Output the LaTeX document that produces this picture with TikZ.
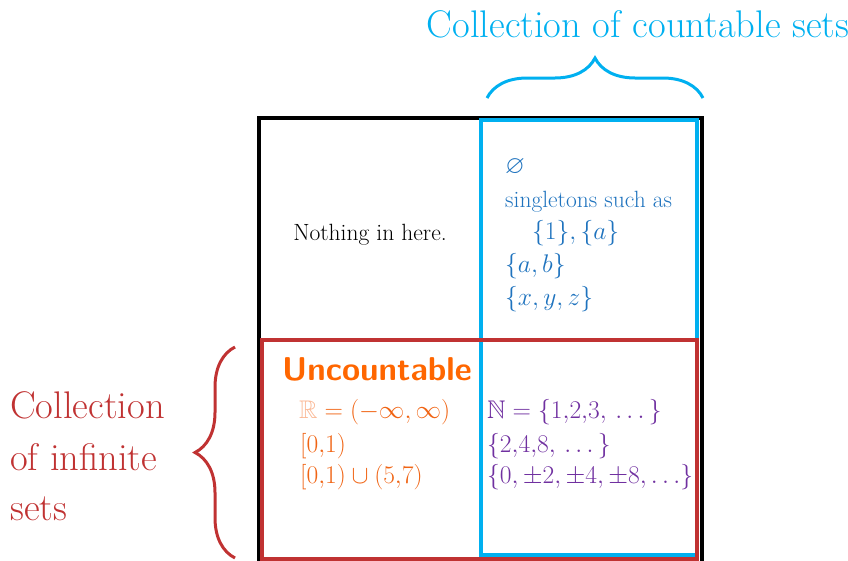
\RequirePackage{fix-cm}
\documentclass[tikz,border=0pt]{standalone}
\usepackage{amssymb,amsmath}
\usepackage{fontspec}
\usetikzlibrary{positioning}
\usetikzlibrary{decorations.pathreplacing}
\definecolor{cblue}{RGB}{0,176,240}
\definecolor{tblue}{RGB}{31,115,190}
\definecolor{ired}{RGB}{192,50,50}
\definecolor{uorange}{RGB}{255,102,0}
\definecolor{morange}{RGB}{240,100,20}
\definecolor{lorange}{RGB}{250,185,150}
\definecolor{npurple}{RGB}{112,48,160}
\tikzset{bigtext/.style = {font=\fontsize{38.5}{44}\selectfont, inner sep=0pt}}
\tikzset{settext/.style = {font=\fontsize{23.5}{27}\selectfont, inner sep=0pt, anchor=base west}}
\tikzset{setmath/.style = {font=\fontsize{25.5}{30}\selectfont, inner sep=0pt, anchor=base west}}
\tikzset{setbrace/.style = {decorate, decoration={brace, amplitude=40pt}, line width=3pt}}
\tikzset{boxline/.style = {line width=4pt}}

\begin{document}
\begin{tikzpicture}[x=1pt, y=-1pt]
          \useasboundingbox (0,0) rectangle (848,560);
          \clip (0,0) rectangle (848,560);
          % the three boxes
          \draw[boxline, black] (259,600) -- (259,118) -- (702,118) -- (702,600);
          \draw[boxline, cblue] (481,120) rectangle (697,555);
          \draw[boxline, ired] (262,340) rectangle (697,559);
          % braces
          \coordinate (cb1) at (487,98);
          \coordinate (cb2) at (703,98);
          \draw[setbrace, cblue] (cb1) -- (cb2);
          \coordinate (ib1) at (235,558);
          \coordinate (ib2) at (235,347);
          \draw[setbrace, ired] (ib1) -- (ib2);
          \node[bigtext, text=cblue, anchor=base] (countlabel) at (638,37) {Collection of countable sets};
          \node[bigtext, text=ired, anchor=base west] (inflabel1) at (10,418) {Collection};
          \node[bigtext, text=ired, anchor=base west] (inflabel2) at (10,470) {of infinite};
          \node[bigtext, text=ired, anchor=base west] (inflabel3) at (10,520) {sets};
          % top left
          \node[settext, anchor=base] (nothing) at (370,240) {Nothing in here.};
          % countable, finite
          \node[setmath, text=tblue] (empty) at (505,173) {$\varnothing$};
          \node[settext, text=tblue] (single) at (505,207) {singletons such as};
          \node[setmath, text=tblue] (single2) at (532,239) {$\{1\},\{a\}$};
          \node[setmath, text=tblue] (ab) at (505,272) {$\{a,b\}$};
          \node[setmath, text=tblue] (xyz) at (505,305) {$\{x,y,z\}$};
          % uncountable
          \node[settext, text=uorange, font=\fontsize{33}{36}\sffamily\bfseries, anchor=base west] (uncount) at (282,380) {Uncountable};
          \node[setmath, text=morange] (reals) at (299,418) {$\textcolor{lorange}{\mathbb{R}} = (-\infty,\infty)$};
          \node[setmath, text=morange] (unit) at (300,452) {$[0{,}1)$};
          \node[setmath, text=morange] (union) at (300,483) {$[0{,}1)\cup(5{,}7)$};
          % countably infinite
          \node[setmath, text=npurple] (nat) at (487,418) {$\mathbb{N} = \{1{,}2{,}3{,}\,\ldots\,\}$};
          \node[setmath, text=npurple] (pow) at (487,452) {$\{2{,}4{,}8{,}\,\ldots\,\}$};
          \node[setmath, text=npurple] (even) at (487,483) {$\{0,\pm2,\pm4,\pm8,\ldots\}$};
        \end{tikzpicture}
\end{document}
